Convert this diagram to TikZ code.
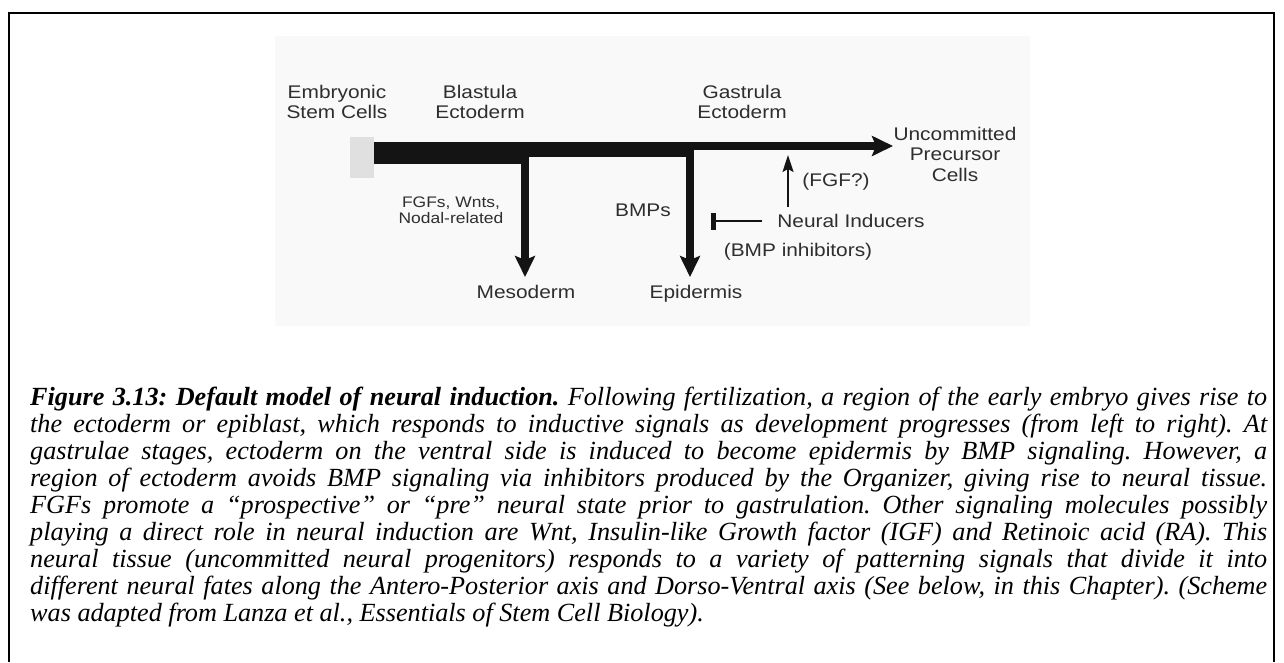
\documentclass[tikz,border=0pt]{standalone}
\usepackage{fontspec}
\setmainfont{Liberation Serif}
\newfontfamily\capfont{Liberation Serif}
\newfontfamily\diagfont[FakeStretch=1.14]{Liberation Sans}
\usetikzlibrary{arrows.meta}
\definecolor{diagbg}{HTML}{F9F9F9}
\definecolor{escgrey}{HTML}{E0E0E0}
\definecolor{bartone}{HTML}{141414}
\definecolor{labeltone}{HTML}{2E2E2E}
\tikzset{
  lbl/.style={anchor=north, inner sep=0pt, align=center, text=labeltone,
    font=\diagfont\fontsize{18.3}{20.5}\selectfont},
  smalllbl/.style={lbl, font=\diagfont\fontsize{15.3}{15.5}\selectfont},
  bigtip/.style={-{Stealth[length=21pt,width=20pt,inset=4pt]}},
  bar/.style={draw=bartone, line width=#1},
  thinarrow/.style={draw=bartone, line width=1.6pt, -{Stealth[length=17pt,width=11pt,inset=3pt]}},
  blocker/.style={draw=bartone, line width=1.6pt, -{Bar[width=17pt,line width=5pt]}},
}
\begin{document}
\begin{tikzpicture}[x=1pt,y=-1pt]
\useasboundingbox (0,0) rectangle (1284,662);
\fill[white] (0,0) rectangle (1284,662);
% page frame
\draw[line width=2pt] (9,662) -- (9,13) -- (1274,13) -- (1274,662);
% diagram backdrop
\fill[diagbg] (275,36) rectangle (1030,326);
% labels
\node[lbl] (esc) at (337,85) {Embryonic\\Stem Cells};
\node[lbl] (blast) at (480,85) {Blastula\\Ectoderm};
\node[lbl] (gast) at (742,85) {Gastrula\\Ectoderm};
\node[lbl] (unc) at (955,127) {Uncommitted\\Precursor\\Cells};
\node[smalllbl] (fgfs) at (451,197) {FGFs, Wnts,\\Nodal-related};
\node[lbl] (bmps) at (643,204) {BMPs};
\node[lbl] (fgfq) at (836,173) {(FGF?)};
\node[lbl] (neural) at (851,214) {Neural Inducers};
\node[lbl] (bmpinh) at (798,243) {(BMP inhibitors)};
\node[lbl] (meso) at (526,285) {Mesoderm};
\node[lbl] (epi) at (696,285) {Epidermis};
% embryonic stem cell block
\node[fill=escgrey, minimum width=24pt, minimum height=41pt, inner sep=0pt] (escbox) at (362,157) {};
% tapered main bar
\coordinate (b1) at (525,142);
\coordinate (b2) at (690,142);
\draw[bar=22pt] ([yshift=-11pt]escbox.east |- b1) -- ([yshift=-11pt]b1);
\draw[bar=15pt] ([yshift=-7.5pt]b1) -- ([yshift=-7.5pt]b2);
\coordinate (tipR) at (893,146);
\draw[bar=8pt, bigtip] (b2 |- tipR) -- (tipR);
% branches
\draw[bar=8pt, bigtip, shorten >=8pt] (b1) -- (b1 |- meso.north);
\draw[bar=8pt, bigtip, shorten >=8pt] (b2) -- (b2 |- epi.north);
% neural inducers: FGF? arrow and BMP block
\coordinate (fgfbase) at (788,207);
\coordinate (fgftip) at (788,155);
\draw[thinarrow] (fgfbase) -- (fgftip);
\coordinate (blockend) at (711,221);
\draw[blocker, shorten <=15pt] (neural.west |- blockend) -- (blockend);
% caption
\node[anchor=north west, inner sep=0pt, text width=1237pt, align=justify,
      font=\capfont\fontsize{26.2}{27}\selectfont\itshape\frenchspacing] (cap) at (30,385)
{\rule{0pt}{20pt}\textbf{Figure 3.13: Default model of neural induction.} Following fertilization, a region of the early embryo gives rise to\linebreak
the ectoderm or epiblast, which responds to inductive signals as development progresses (from left to right). At\linebreak
gastrulae stages, ectoderm on the ventral side is induced to become epidermis by BMP signaling. However, a\linebreak
region of ectoderm avoids BMP signaling via inhibitors produced by the Organizer, giving rise to neural tissue.\linebreak
FGFs promote a “prospective” or “pre” neural state prior to gastrulation. Other signaling molecules possibly\linebreak
playing a direct role in neural induction are Wnt, Insulin-like Growth factor (IGF) and Retinoic acid (RA). This\linebreak
neural tissue (uncommitted neural progenitors) responds to a variety of patterning signals that divide it into\linebreak
different neural fates along the Antero-Posterior axis and Dorso-Ventral axis (See below, in this Chapter). (Scheme\linebreak
was adapted from Lanza et al., Essentials of Stem Cell Biology).};
\end{tikzpicture}
\end{document}
